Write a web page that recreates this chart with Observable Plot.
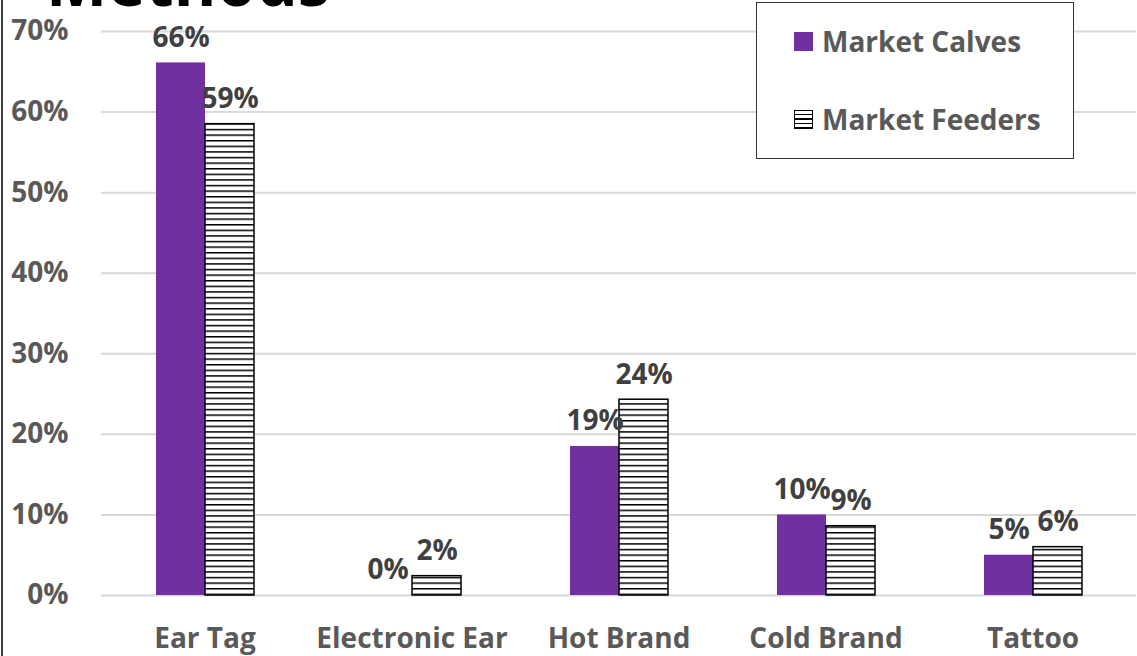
<!DOCTYPE html>
<html><head><meta charset="utf-8">
<script src="https://cdn.jsdelivr.net/npm/d3@7"></script>
<script src="https://cdn.jsdelivr.net/npm/@observablehq/plot@0.6"></script>
<style>
body{margin:0;background:#fff;}
#wrap{position:relative;width:1137px;height:656px;overflow:hidden;font-family:"Open Sans", Lato, sans-serif;font-weight:700;}
#wrap svg{position:absolute;left:0;top:0;}
#border{position:absolute;left:1px;top:0;width:2px;height:656px;background:#404040;}
#legend{position:absolute;left:756px;top:2px;width:318px;height:157px;border:1.5px solid #333;background:#fff;box-sizing:border-box;}
.item{position:absolute;left:37px;display:flex;align-items:center;height:30px;color:#595959;font-size:28px;white-space:nowrap;}
.sw{width:19px;height:19px;margin-right:9px;box-sizing:border-box;flex:none;}
</style>
</head><body>
<div id="wrap"><div id="border"></div></div>
<script>
const FONT = "Open Sans";
const FS = 28;
const categories = ["Ear Tag", "Electronic Ear", "Hot Brand", "Cold Brand", "Tattoo"];
const series = ["Market Calves", "Market Feeders"];
const calves = [66.1, 0, 18.5, 10.0, 5.0];
const feeders = [58.5, 2.4, 24.3, 8.6, 6.0];
const yTicks = [0, 10, 20, 30, 40, 50, 60, 70];
const title = "Methods";
const PURPLE = "#7030A0";

const data = categories.flatMap((c, i) => [
  {category: c, series: series[0], value: calves[i]},
  {category: c, series: series[1], value: feeders[i]}
]);

const chart = Plot.plot({
  width: 1137, height: 656,
  marginLeft: 100, marginRight: 0, marginTop: 31, marginBottom: 61,
  style: {fontFamily: FONT, fontWeight: 700, background: "transparent", overflow: "visible"},
  fx: {domain: categories, padding: 0, label: null},
  x: {domain: series, paddingInner: 0, paddingOuter: 1.074, axis: null},
  y: {domain: [0, 70], axis: null},
  marks: [
    Plot.gridY(yTicks, {stroke: "#d9d9d9", strokeOpacity: 1, strokeWidth: 2}),
    Plot.axisY(yTicks, {tickSize: 0, tickPadding: 33, tickFormat: d => d + "%", fontSize: FS, fill: "#595959", label: null, facetAnchor: "left"}),
    Plot.axisFx({anchor: "bottom", tickSize: 0, tickPadding: 33, fontSize: FS, fill: "#595959", label: null}),
    Plot.barY(data.filter(d => d.series === series[0]), {fx: "category", x: "series", y: "value", fill: PURPLE}),
    Plot.barY(data.filter(d => d.series === series[1]), {fx: "category", x: "series", y: "value", fill: "url(#hstripe)", stroke: "#000", strokeWidth: 1.5}),
    Plot.text(data, {fx: "category", x: "series", y: "value", text: d => Math.round(d.value) + "%", dy: -25, fontSize: FS, fill: "#404040", fontWeight: 700})
  ]
});

// stripe pattern definition
const svg = d3.select(chart);
const defs = svg.insert("defs", ":first-child");
const pat = defs.append("pattern").attr("id", "hstripe").attr("patternUnits", "userSpaceOnUse")
  .attr("width", 10).attr("height", 5.6);
pat.append("rect").attr("width", 10).attr("height", 5.6).attr("fill", "#fff");
pat.append("rect").attr("y", 0).attr("width", 10).attr("height", 1.5).attr("fill", "#000");

// cut-off title at the top
svg.append("text").attr("x", 46).attr("y", 6).attr("font-size", 72).attr("font-weight", 700)
  .attr("font-family", FONT).attr("fill", "#000").attr("text-anchor", "start")
  .attr("textLength", 284).attr("lengthAdjust", "spacingAndGlyphs").text(title);

const wrap = document.getElementById("wrap");
wrap.appendChild(chart);

// legend
const legend = document.createElement("div");
legend.id = "legend";
const rowsTop = [23, 101];
series.forEach((s, i) => {
  const it = document.createElement("div");
  it.className = "item";
  it.style.top = rowsTop[i] + "px";
  const sw = document.createElement("span");
  sw.className = "sw";
  if (i === 0) sw.style.background = PURPLE;
  else {
    sw.style.border = "1.5px solid #000";
    sw.style.background = "repeating-linear-gradient(to bottom,#fff 0px,#fff 3px,#000 3px,#000 4.5px)";
  }
  it.appendChild(sw);
  const t = document.createElement("span");
  t.textContent = s;
  it.appendChild(t);
  legend.appendChild(it);
});
wrap.appendChild(legend);
</script>
</body></html>
